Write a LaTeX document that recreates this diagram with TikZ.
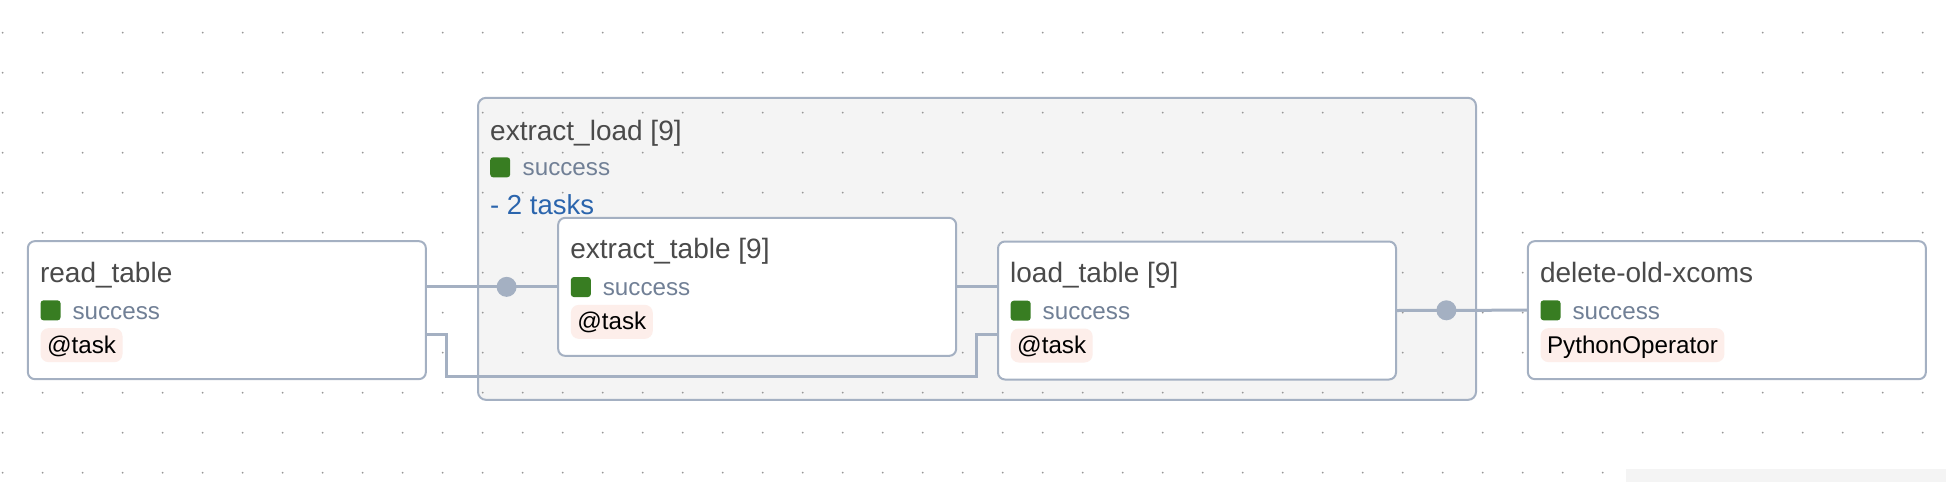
\documentclass[tikz,border=0pt]{standalone}
\usepackage{fontspec}
\setmainfont{Liberation Sans}
\usepackage{tikz}
\usetikzlibrary{calc}

\definecolor{edgecol}{RGB}{164,176,194}
\definecolor{titlecol}{RGB}{74,74,74}
\definecolor{statecol}{RGB}{113,128,150}
\definecolor{successcol}{RGB}{56,125,34}
\definecolor{tagcol}{RGB}{253,238,234}
\definecolor{groupcol}{RGB}{244,244,244}
\definecolor{taskscol}{RGB}{43,101,173}
\definecolor{dotcol}{RGB}{150,150,150}

\begin{document}
\begin{tikzpicture}[x=1pt, y=-1pt,
	taskbox/.style={shape=rectangle, draw=edgecol, fill=white, line width=2pt, rounded corners=7pt, minimum width=398pt, minimum height=138pt, inner sep=0},
	groupbox/.style={shape=rectangle, draw=edgecol, fill=groupcol, line width=2pt, rounded corners=8pt, minimum width=998pt, minimum height=302pt, inner sep=0},
	title/.style={anchor=base west, inner sep=0, text=titlecol, font=\fontsize{28}{32}\selectfont},
	statebox/.style={anchor=north west, fill=successcol, rounded corners=3pt, minimum size=20pt, inner sep=0},
	statetext/.style={anchor=base west, inner sep=0, text=statecol, font=\fontsize{24.2}{28}\selectfont},
	tag/.style={anchor=base west, fill=tagcol, rounded corners=8pt, inner xsep=6.5pt, inner ysep=0, text height=25pt, text depth=9pt, font=\fontsize{24.2}{28}\selectfont},
	edge/.style={draw=edgecol, line width=3pt},
	edgedot/.style={shape=circle, fill=edgecol, minimum size=20pt, inner sep=0}]
	\useasboundingbox (0,0) rectangle (1946,482);
	% Group, grid, boxes and edges:
	\node[groupbox] (extractload) at (977, 248.85) {};
	\foreach \i in {0,...,48}
		\foreach \j in {0,...,11}
			\fill[dotcol] (2.7+40*\i, 32.7+40*\j) circle (1);
	\fill[groupcol] (1626, 469.3) rectangle (1946, 482);
	\node[title] (extractloadT) at ($(extractload.north west)+(13, 43.3)$) {extract\_load [9]};
	\node[statebox] (extractloadS) at ($(extractload.north west)+(13, 60.3)$) {};
	\node[statetext] (extractloadX) at ($(extractload.north west)+(45.5, 79)$) {success};
	\node[statetext, text=taskscol, font=\fontsize{27.5}{32}\selectfont] (extractloadN) at ($(extractload.north west)+(13, 118)$) {- 2 tasks};
	\node[taskbox] (readtable) at (226.85, 310.15) {};
	\node[taskbox] (extracttable) at (757.15, 286.85) {};
	\node[taskbox] (loadtable) at (1197, 310.5) {};
	\node[taskbox] (deletexcoms) at (1726.85, 310.15) {};
	\foreach \tsk/\name/\kind in {readtable/read\_table/@task, extracttable/extract\_table [9]/@task, loadtable/load\_table [9]/@task, deletexcoms/delete-old-xcoms/PythonOperator}{
		\node[title] (\tsk T) at ($(\tsk.north west)+(13, 42)$) {\name};
		\node[statebox] (\tsk S) at ($(\tsk.north west)+(13.5, 60)$) {};
		\node[statetext] (\tsk X) at ($(\tsk.north west)+(45.5, 79)$) {success};
		\node[tag] (\tsk K) at ($(\tsk.north west)+(13.5, 113)$) {\kind};
	}
	\coordinate (bendA) at (446.7, 376.7);
	\coordinate (bendB) at (976.8, 376.7);
	\draw[edge] (readtable.east |- extracttable.west) -- (extracttable.west);
	\draw[edge] ([yshift=-24pt]readtable.east) -| (bendA) -- (bendB) |- ([yshift=-23.5pt]loadtable.west);
	\draw[edge] (extracttable.east) -- (extracttable.east -| loadtable.west);
	\draw[edge] (loadtable.east) -- (deletexcoms.west);
	\node[edgedot] (dotA) at (506.6, 286.85) {};
	\node[edgedot] (dotB) at (1446.4, 310.3) {};
\end{tikzpicture}
\end{document}
